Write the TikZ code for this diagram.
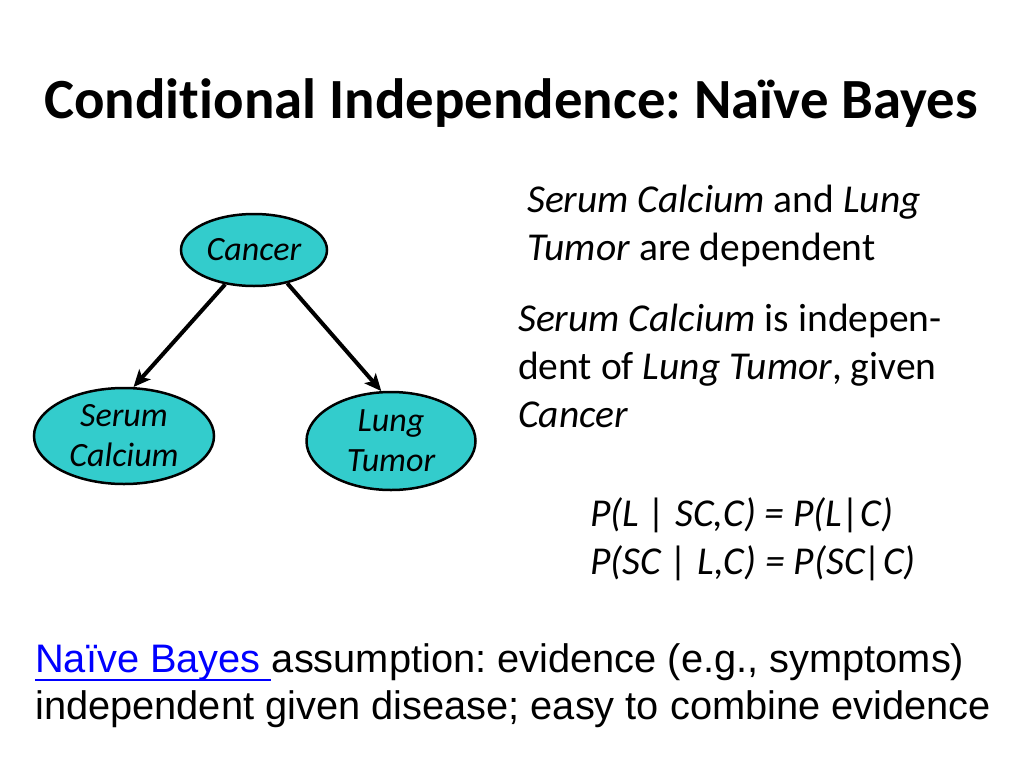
\documentclass[tikz,border=0pt]{standalone}
\usepackage{fontspec}
\setmainfont{Carlito}[Ligatures=NoCommon]
\newfontfamily\arialf{Liberation Sans}
\usetikzlibrary{shapes.geometric,arrows.meta}
\definecolor{teal1}{RGB}{51,204,204}
\definecolor{linkblue}{RGB}{0,0,255}
\tikzset{
  bnode/.style={ellipse,draw=black,line width=2.5pt,fill=teal1,inner sep=0pt,
    font=\fontsize{34}{40}\selectfont\itshape,align=center},
  edge/.style={line width=4pt,-{Stealth[length=17pt,width=15pt,inset=4pt]}},
  txt/.style={anchor=base west,inner sep=0pt,font=\fontsize{39.5}{48}\selectfont},
  btxt/.style={anchor=base west,inner sep=0pt,font=\arialf\fontsize{39.8}{46}\selectfont}
}
\begin{document}
\frenchspacing
\begin{tikzpicture}[x=1pt,y=-1pt]
\useasboundingbox[fill=white] (0,0) rectangle (1024,768);
\node[anchor=base,inner sep=0pt,font=\fontsize{56.8}{60}\selectfont\bfseries] (title) at (511,118) {Conditional Independence: Na\"{\i}ve Bayes};
\node[bnode,minimum width=146pt,minimum height=72pt] (c) at (254,250) {Cancer};
\node[bnode,minimum width=180pt,minimum height=96pt] (s) at (124,436) {Serum\\Calcium};
\node[bnode,minimum width=169pt,minimum height=98pt] (l) at (391,441) {Lung\\Tumor};
\draw[edge] (c.230) -- (s.79);
\draw[edge] (c.315) -- (l.101);
\node[txt] (t1) at (527,212) {\textit{Serum Calcium} and \textit{Lung}};
\node[txt] (t2) at (527,260) {\textit{Tumor} are dependent};
\node[txt] (t3) at (518,331) {\textit{Serum Calcium} is indepen-};
\node[txt] (t4) at (518,379) {dent of \textit{Lung Tumor}, given};
\node[txt] (t5) at (518,427) {\textit{Cancer}};
\node[txt] (f1) at (590,526) {\textit{P(L | SC,C) = P(L|C)}};
\node[txt] (f2) at (590,574) {\textit{P(SC | L,C) = P(SC|C)}};
\node[btxt] (b1) at (35,672) {\textcolor{linkblue}{Na\"{\i}ve Bayes\ }assumption: evidence (e.g., symptoms)};
\node[btxt] (b2) at (35,719) {independent given disease; easy to combine evidence};
\coordinate (u1) at (35,680);
\coordinate (u2) at (271,680);
\draw[linkblue,line width=1.5pt] (u1) -- (u2);
\end{tikzpicture}
\end{document}
